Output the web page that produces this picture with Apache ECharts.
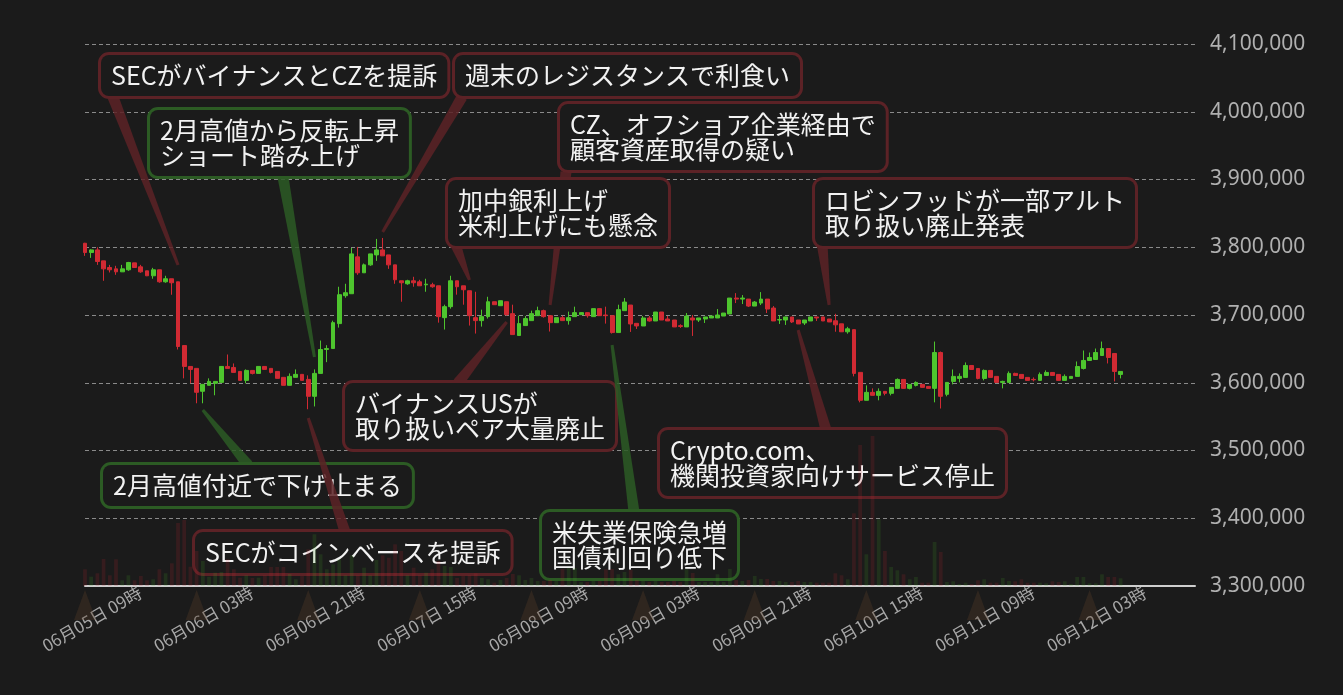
<!DOCTYPE html>
<html><head><meta charset="utf-8">
<script src="https://cdn.jsdelivr.net/npm/echarts@6/dist/echarts.min.js"></script>
<style>html,body{margin:0;padding:0;background:#1b1b1b}#c{width:1343px;height:695px}</style>
</head><body><div id="c"></div><script>
// ---- categories (hourly, 2023-06-05 09時 start) ----
const categories = [];
(function(){ const t0 = Date.UTC(2023,5,5,9); for (let k=0;k<180;k++){ const d=new Date(t0+k*3600000);
  const p=n=>String(n).padStart(2,'0');
  categories.push(p(d.getUTCMonth()+1)+'月'+p(d.getUTCDate())+'日 '+p(d.getUTCHours())+'時'); } })();
const tickIndices = [0,18,36,54,72,90,108,126,144,162];
const yTicks = [3300000,3400000,3500000,3600000,3700000,3800000,3900000,4000000,4100000];

// ---- OHLC: [open, close, low, high] ----
const ohlc = [
[3805900,3792200,3787300,3806500],[3792200,3796100,3784300,3797000],[3796100,3778900,3774000,3800000],[3779900,3768100,3750500,3779900],
[3770100,3766700,3762800,3774000],[3768100,3763700,3759300,3772600],[3763700,3768100,3763700,3774000],[3766700,3777500,3765200,3778400],
[3777000,3770100,3770100,3777000],[3771100,3763700,3762300,3774000],[3765200,3757900,3757400,3765200],[3757900,3766700,3753500,3769600],
[3766700,3749000,3747600,3766700],[3749000,3753500,3747600,3757900],[3753500,3747600,3729900,3753500],[3749000,3653500,3649100,3749000],
[3654900,3624100,3606500,3654900],[3624100,3619700,3599100,3624100],[3621200,3585900,3569700,3621200],[3587400,3597600,3569700,3597600],
[3596200,3602000,3596200,3606500],[3599100,3602000,3581500,3602000],[3600600,3624100,3600600,3624100],[3624100,3621200,3621200,3641700],
[3622600,3615300,3615300,3628500],[3616700,3603500,3603500,3616700],[3603500,3618200,3599100,3619700],[3618200,3613800,3612300,3618200],
[3613800,3624100,3613800,3624100],[3624100,3619700,3619700,3624100],[3621200,3615300,3613800,3621200],[3616700,3606500,3606500,3616700],
[3608000,3596200,3596200,3608000],[3596200,3609400,3596200,3613800],[3608000,3612400,3608000,3619700],[3612400,3603500,3603500,3612400],
[3605000,3580000,3560900,3610900],[3580000,3613800,3565000,3619700],[3613800,3649100,3613800,3662300],[3649100,3650500,3630400,3655400],
[3650500,3688700,3650500,3691600],[3687300,3730000,3681400,3741700],[3728500,3732900,3725500,3746100],[3731400,3790200,3731400,3799000],
[3785800,3762300,3759300,3800500],[3762300,3774000,3762300,3776000],[3774000,3790200,3772600,3790200],[3788700,3796100,3779900,3812300],
[3796100,3787300,3787300,3813700],[3788700,3774000,3768100,3788700],[3774000,3752000,3746100,3774000],[3750500,3747600,3719600,3750500],
[3746100,3750500,3744600,3752000],[3750500,3747600,3741700,3756400],[3749000,3743100,3743100,3752000],[3744600,3745500,3734300,3753500],
[3744600,3741700,3740200,3747600],[3743100,3697600,3688700,3743100],[3696100,3712300,3678500,3715200],[3712300,3750500,3709400,3757900],
[3750500,3741700,3730000,3750500],[3743100,3737300,3715200,3743100],[3735800,3699000,3684400,3735800],[3696100,3691700,3672600,3734300],
[3691700,3697600,3682900,3707900],[3697600,3719600,3694700,3726900],[3719600,3715200,3715200,3719600],[3713700,3721100,3713700,3721100],
[3719600,3700500,3699000,3719600],[3702000,3671100,3671100,3715200],[3669700,3687300,3669700,3699000],[3684400,3694700,3684400,3698500],
[3691700,3702000,3691700,3706400],[3699000,3706400,3699000,3712300],[3706400,3697600,3696100,3707900],[3699000,3688700,3675600,3699000],
[3688700,3696100,3688700,3696100],[3696100,3691700,3691700,3699000],[3691700,3696100,3685800,3705000],[3697600,3703500,3697600,3712300],
[3700500,3703500,3700500,3703500],[3703500,3699000,3696100,3703500],[3697600,3709400,3697600,3709400],[3709400,3699000,3699000,3709400],
[3700000,3699000,3687300,3712300],[3699000,3674100,3672600,3699000],[3674100,3707900,3674100,3715200],[3706400,3719100,3706400,3725000],
[3714700,3686800,3675000,3714700],[3687700,3683800,3679400,3687700],[3683800,3695600,3683800,3698500],[3695600,3691200,3690200,3698500],
[3691200,3704400,3691200,3704400],[3704400,3692600,3692600,3704400],[3694100,3691200,3691200,3698500],[3692600,3682400,3682400,3692600],
[3684300,3683000,3680900,3686300],[3682400,3698500,3682400,3702900],[3695600,3692600,3669100,3700000],[3692600,3695600,3689700,3695600],
[3694100,3697100,3688200,3697100],[3695600,3698500,3695600,3698500],[3695600,3700000,3695600,3708800],[3698500,3702900,3698500,3702900],
[3701500,3725000,3701500,3725000],[3725000,3723500,3717600,3732300],[3723500,3725000,3716200,3729400],[3723500,3713200,3711800,3723500],
[3713200,3719100,3713200,3720600],[3717600,3723500,3714700,3733800],[3723500,3708800,3702900,3723500],[3710300,3691200,3691200,3713200],
[3692600,3693300,3686800,3700000],[3692600,3697100,3685300,3697100],[3697100,3689700,3688200,3697100],[3692600,3686800,3686800,3692600],
[3688200,3692600,3685300,3692600],[3691200,3697100,3691200,3697100],[3697100,3695600,3691200,3697100],[3697100,3691200,3691200,3697100],
[3694100,3689700,3689700,3694100],[3691500,3685500,3675300,3701800],[3687000,3675200,3675200,3687000],[3675200,3679600,3672400,3682500],
[3678400,3613800,3609400,3678400],[3615300,3574100,3571100,3615300],[3574100,3585800,3574100,3596100],[3585800,3581400,3581400,3591700],
[3581400,3587300,3574100,3591700],[3587300,3584400,3581400,3587300],[3584400,3593200,3581400,3593200],[3591700,3604900,3591700,3606400],
[3604900,3591700,3591700,3604900],[3591700,3597600,3590200,3597600],[3596100,3600500,3594600,3602000],[3597600,3593200,3593200,3597600],
[3594600,3591700,3591700,3594600],[3591700,3644600,3571100,3660800],[3644600,3580000,3562000,3646100],[3582900,3600500,3580000,3600500],
[3602000,3609400,3597600,3619600],[3606400,3609400,3600500,3613800],[3607900,3625500,3607900,3630000],[3625500,3619600,3619600,3625500],
[3621100,3606400,3605000,3621100],[3606400,3618200,3603500,3619600],[3618200,3607900,3607900,3618200],[3609400,3600500,3600500,3609400],
[3600500,3602000,3591700,3603000],[3600500,3613800,3600500,3616700],[3613800,3610800,3610800,3614800],[3612300,3606400,3606400,3612300],
[3607900,3603500,3603500,3607900],[3605000,3604400,3602000,3607900],[3603500,3612300,3603500,3615200],[3610800,3615200,3610800,3618200],
[3615200,3610800,3610800,3615200],[3612300,3603500,3603500,3612300],[3603500,3609400,3603500,3612300],[3606400,3609400,3606400,3609400],
[3609400,3624000,3609400,3631400],[3621100,3632900,3619600,3647600],[3632900,3637300,3632900,3644600],[3634300,3644600,3634300,3650500],
[3640200,3650500,3640200,3660800],[3650500,3637300,3628500,3650500],[3643200,3616700,3602000,3643200],[3612300,3616700,3606400,3616700]
];
// ---- hourly volume (estimated) ----
const volume = [
50,28,38,81,32,80,17,32,17,30,17,20,50,38,68,189,198,58,105,75,28,40,42,80,50,
25,32,24,25,32,57,57,57,36,20,30,110,155,95,50,65,80,32,92,32,55,32,78,92,85,125,105,32,55,32,40,50,
75,60,57,24,30,32,38,24,20,10,18,24,36,32,18,24,15,15,18,15,51,54,54,12,12,15,15,50,51,35,42,48,18,15,12,15,12,12,15,12,50,39,12,12,12,35,12,51,18,15,18,30,21,21,15,15,12,12,15,12,12,
10,10,10,38,32,20,218,423,95,450,200,105,57,47,35,20,27,10,10,132,102,12,14,6,10,6,17,20,10,10,24,15,14,20,10,10,10,8,14,12,14,6,27,27,8,8,35,27,27,23
];
// ---- annotations ----
const annTexts = [
 'SECがバイナンスとCZを提訴',
 '2月高値から反転上昇\nショート踏み上げ',
 '週末のレジスタンスで利食い',
 'CZ、オフショア企業経由で\n顧客資産取得の疑い',
 '加中銀利上げ\n米利上げにも懸念',
 'ロビンフッドが一部アルト\n取り扱い廃止発表',
 'バイナンスUSが\n取り扱いペア大量廃止',
 '2月高値付近で下げ止まる',
 'SECがコインベースを提訴',
 '米失業保険急増\n国債利回り低下',
 'Crypto.com、\n機関投資家向けサービス停止'
];
const annIndex = [15,37,48,75,62,120,68,19,36,85,115];
const annPrice = [3773800,3638000,3822500,3714800,3751700,3714800,3689700,3559800,3548000,3655700,3677900];
const annTone  = ['down','up','down','down','down','down','down','up','down','up','down'];
// layout: [boxLeft, boxTop, arrowBaseX, arrowBaseY] in pixels
const annLayout = [
 [101,55,113,97],[150,110,283,177],[455,55,462,97],[560,104,566,172],[448,180,455,243],
 [815,180,822,243],[345,383,458,383],[103,465,248,465],[195,532,345,532],[542,512,634,512],[660,430,826,430]
];

const UP='#4ec52e', DOWN='#d12a33';
const BOX_UP='#2c5b24', BOX_DOWN='#5c2226';
const chart = echarts.init(document.getElementById('c'));
const fmt = v => v.toLocaleString('en-US');

chart.setOption({
  backgroundColor:'#1b1b1b',
  animation:false,
  grid:{left:85,right:148,top:44,bottom:109},
  xAxis:{type:'category',data:categories,boundaryGap:false,
    axisLine:{lineStyle:{color:'#cfcfcf',width:2}},
    axisTick:{show:false},
    splitLine:{show:false},
    axisLabel:{interval:17,rotate:30,color:'#a8a8a8',fontSize:17,fontFamily:'"Noto Sans CJK JP"',
      align:'center',verticalAlign:'middle',margin:37,padding:[0,0,0,16]}},
  yAxis:[{type:'value',position:'right',min:yTicks[0],max:yTicks[yTicks.length-1],interval:100000,
      axisLine:{show:false},axisTick:{show:false},
      axisLabel:{color:'#b0b0b0',fontSize:21,margin:15,fontFamily:'"Noto Sans"',formatter:fmt},
      splitLine:{lineStyle:{color:'#8a8a8a',type:[4,3],width:1}}},
    {type:'value',show:false,min:0,max:1626}],
  series:[
    {type:'candlestick',data:ohlc,barWidth:'70%',z:3,
     itemStyle:{color:UP,color0:DOWN,borderColor:UP,borderColor0:DOWN,borderWidth:1}},
    {type:'custom',z:4,clip:false,silent:true,
     data:annIndex.map((x,i)=>[x,annPrice[i]]),
     renderItem:function(params,api){
       const i=params.dataIndex;
       const tip=api.coord([api.value(0),api.value(1)]);
       const L=annLayout[i];
       const col=annTone[i]==='up'?BOX_UP:BOX_DOWN;
       const bx=L[2],by=L[3];
       const dx=tip[0]-bx,dy=tip[1]-by,len=Math.hypot(dx,dy);
       const nx=-dy/len,ny=dx/len,w0=5.5,w1=1.5;
       const pts=[[bx+nx*w0,by+ny*w0],[tip[0]+nx*w1,tip[1]+ny*w1],[tip[0]-nx*w1,tip[1]-ny*w1],[bx-nx*w0,by-ny*w0]];
       return {type:'group',children:[
         {type:'polygon',shape:{points:pts},style:{fill:col,opacity:0.85}},
         {type:'text',x:L[0],y:L[1],style:{text:annTexts[i],fill:'#f2f2f2',
           font:'25px "Noto Sans CJK JP"',lineHeight:25,align:'left',verticalAlign:'top',
           backgroundColor:'#1b1b1b',borderColor:col,borderWidth:3,borderRadius:8,padding:[8,10,8,10]}}
       ]};
     }},
    {type:'bar',yAxisIndex:1,data:volume,barWidth:'60%',z:5,silent:true,
     itemStyle:{color:function(p){const d=ohlc[p.dataIndex];return d[1]>=d[0]?'rgba(70,170,40,0.16)':'rgba(200,40,50,0.16)';}}},
    {type:'custom',z:1,clip:false,silent:true,
     data:tickIndices.map(x=>[x,yTicks[0]]),
     renderItem:function(params,api){
       const p=api.coord([api.value(0),api.value(1)]);
       return {type:'polygon',shape:{points:[[p[0],p[1]+4],[p[0]+11,p[1]+34],[p[0]-11,p[1]+34]]},
         style:{fill:'rgba(85,60,40,0.35)'}};
     }}
  ]
});
</script></body></html>
